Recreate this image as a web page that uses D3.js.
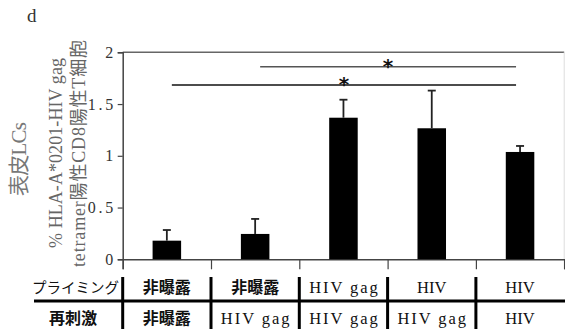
<!DOCTYPE html>
<html>
<head>
<meta charset="utf-8">
<script src="https://cdn.jsdelivr.net/npm/d3@7"></script>
<style>
  html, body { margin: 0; padding: 0; background: #fff; }
  svg { display: block; }
</style>
</head>
<body>
<svg id="chart" width="565" height="329"></svg>
<script>
// ---- data ----
const priming = ["非曝露", "非曝露", "HIV gag", "HIV", "HIV"];
const restim = ["非曝露", "HIV gag", "HIV gag", "HIV gag", "HIV"];
const means = [0.18, 0.245, 1.368, 1.266, 1.037];
const errors = [0.103, 0.145, 0.174, 0.364, 0.058];
const yTicks = [0, 0.5, 1, 1.5, 2];
const yTickLabels = ["0", "0.5", "1", "1.5", "2"];
const sigFrom = [1, 0];
const sigTo = [4, 4];
const sigY = [1.86, 1.685];
const sigLabel = ["*", "*"];
const rowHeaders = ["プライミング", "再刺激"];
const panelLabel = "d";
const yTitleOuter = "表皮LCs";
const yTitleLine1 = "% HLA-A*0201-HIV gag";
const yTitleLine2 = "tetramer陽性CD8陽性T細胞";

(function () {
// ---- layout ----
const svg = d3.select("#chart");
const pL = 122.7, pR = 564.2, pT = 52.3, pB = 259.3;
const n = means.length;
const serif = "'Liberation Serif', 'Noto Sans CJK JP', serif";
const cjk = "'Noto Sans CJK JP', sans-serif";

const x = d3.scaleBand().domain(d3.range(n)).range([pL, pR])
  .paddingInner(0.677).paddingOuter(0.3385);
const xb = d3.scaleLinear().domain([0, n]).range([pL, pR]);
const y = d3.scaleLinear().domain([0, 2]).range([pB, pT]);
const cx = i => x(i) + x.bandwidth() / 2;

// panel label
svg.append("text").attr("x", 27).attr("y", 22)
  .attr("font-family", serif).attr("font-size", 19).attr("fill", "#333")
  .text(panelLabel);

// top frame line & faint right edge
svg.append("line").attr("x1", pL).attr("x2", pR).attr("y1", pT).attr("y2", pT)
  .attr("stroke", "#666").attr("stroke-width", 1.5);
svg.append("line").attr("x1", pR).attr("x2", pR).attr("y1", pT).attr("y2", pB)
  .attr("stroke", "#ddd").attr("stroke-width", 1);

// y axis
const yAxis = svg.append("g").attr("transform", `translate(${pL},0)`)
  .call(d3.axisLeft(y).tickValues(yTicks).tickSize(5).tickFormat((d, i) => yTickLabels[i]));
yAxis.select(".domain").attr("stroke", "#444").attr("stroke-width", 1.5);
yAxis.selectAll(".tick line").attr("stroke", "#444").attr("stroke-width", 1.2);
yAxis.selectAll(".tick text")
  .attr("x", -9.5)
  .attr("font-family", serif).attr("font-size", 16).attr("fill", "#333")
  .each(function(d, i) {
    const t = yTickLabels[i];
    if (t.length > 1) d3.select(this).attr("textLength", t.length * 8.5).attr("lengthAdjust", "spacing");
  });

// x axis (category boundaries)
const xAxis = svg.append("g").attr("transform", `translate(0,${pB})`)
  .call(d3.axisBottom(xb).tickValues(d3.range(n + 1)).tickSize(10).tickFormat(""));
xAxis.select(".domain").attr("stroke", "#444").attr("stroke-width", 1.5);
xAxis.selectAll(".tick line").attr("stroke", "#444").attr("stroke-width", 1.2);

// bars
svg.append("g").selectAll("rect").data(means).join("rect")
  .attr("x", (d, i) => x(i)).attr("width", x.bandwidth())
  .attr("y", d => y(d)).attr("height", d => y(0) - y(d))
  .attr("fill", "#000");

// error bars
const eb = svg.append("g").attr("stroke", "#222").attr("stroke-width", 1.8);
means.forEach((m, i) => {
  eb.append("line").attr("x1", cx(i)).attr("x2", cx(i))
    .attr("y1", y(m)).attr("y2", y(m + errors[i]));
  eb.append("line").attr("x1", cx(i) - 4).attr("x2", cx(i) + 4)
    .attr("y1", y(m + errors[i])).attr("y2", y(m + errors[i]));
});

// significance brackets
sigY.forEach((v, k) => {
  const x1 = cx(sigFrom[k]) + 5, x2 = cx(sigTo[k]) - 4;
  svg.append("line").attr("x1", x1).attr("x2", x2).attr("y1", y(v)).attr("y2", y(v))
    .attr("stroke", k === 0 ? "#555" : "#111").attr("stroke-width", 1.5);
  svg.append("text").attr("x", (x1 + x2) / 2).attr("y", y(v) + 6.5)
    .attr("text-anchor", "middle").attr("font-family", "'DejaVu Sans', sans-serif")
    .attr("font-weight", "bold").attr("font-size", 20).attr("fill", "#111")
    .text(sigLabel[k]);
});

// y titles
svg.append("text").attr("transform", "translate(26,159) rotate(-90)")
  .attr("text-anchor", "middle").attr("font-family", serif).attr("font-size", 21)
  .attr("fill", "#777").attr("textLength", 74).attr("lengthAdjust", "spacing")
  .text(yTitleOuter);
svg.append("text").attr("transform", "translate(62,153) rotate(-90)")
  .attr("text-anchor", "middle").attr("font-family", serif).attr("font-size", 18)
  .attr("fill", "#666").attr("textLength", 190).attr("lengthAdjust", "spacing")
  .text(yTitleLine1);
svg.append("text").attr("transform", "translate(85,153.5) rotate(-90)")
  .attr("text-anchor", "middle").attr("font-family", serif).attr("font-size", 18)
  .attr("fill", "#666").attr("textLength", 227).attr("lengthAdjust", "spacing")
  .text(yTitleLine2);

// table
const rowY = [287.5, 318.5];
const lineY = 301;
const tbl = svg.append("g");
tbl.append("line").attr("x1", 34).attr("x2", 565).attr("y1", lineY).attr("y2", lineY)
  .attr("stroke", "#000").attr("stroke-width", 3);
d3.range(n).forEach(i => {
  tbl.append("line").attr("x1", xb(i)).attr("x2", xb(i)).attr("y1", 277).attr("y2", 329)
    .attr("stroke", "#000").attr("stroke-width", 3);
});
// row headers
tbl.append("text").attr("x", 119).attr("y", rowY[0]).attr("dy", "0.35em")
  .attr("text-anchor", "end").attr("font-family", cjk).attr("font-size", 14.5)
  .attr("fill", "#111").text(rowHeaders[0]);
tbl.append("text").attr("x", 73).attr("y", rowY[1]).attr("dy", "0.35em")
  .attr("text-anchor", "middle").attr("font-family", cjk).attr("font-size", 16)
  .attr("font-weight", "bold").attr("fill", "#111").text(rowHeaders[1]);

function cellText(t, i, row) {
  const isLatin = /^[A-Za-z ]+$/.test(t);
  const el = tbl.append("text").attr("x", cx(i)).attr("y", rowY[row]).attr("dy", "0.35em")
    .attr("text-anchor", "middle").attr("fill", "#111").text(t);
  if (isLatin) {
    el.attr("font-family", serif).attr("font-size", 16.5)
      .attr("textLength", t.length * 9.8).attr("lengthAdjust", "spacing");
  } else {
    el.attr("font-family", cjk).attr("font-size", 16).attr("font-weight", "bold");
  }
}
priming.forEach((t, i) => cellText(t, i, 0));
restim.forEach((t, i) => cellText(t, i, 1));
})();
</script>
</body>
</html>
